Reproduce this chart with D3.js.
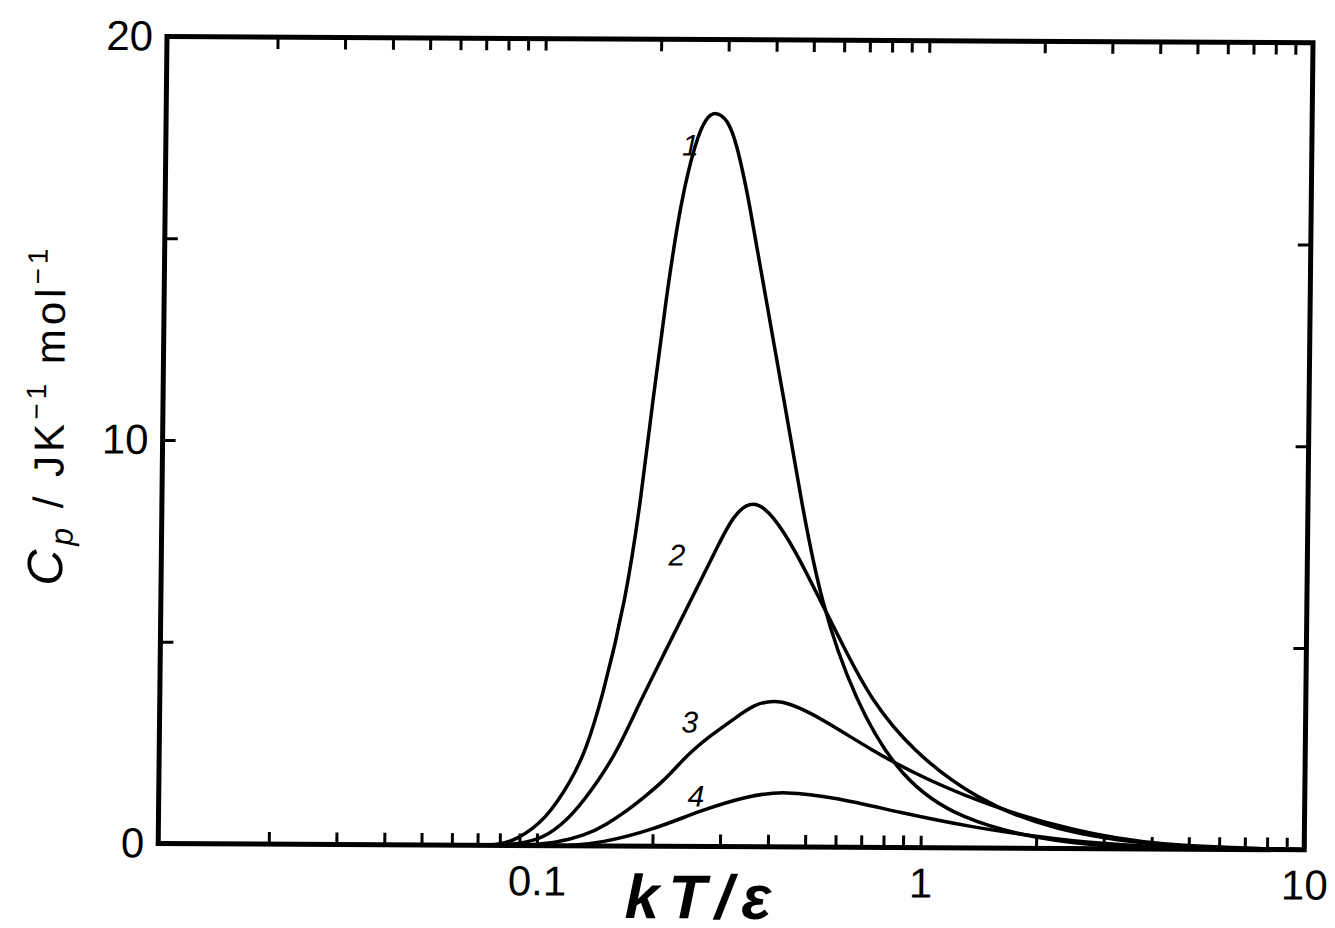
<!DOCTYPE html>
<html>
<head>
<meta charset="utf-8">
<script src="https://cdn.jsdelivr.net/npm/d3@7"></script>
<style>
  body { margin: 0; background: #fff; }
  svg { display: block; font-family: "Liberation Sans", Arial, sans-serif; }
</style>
</head>
<body>
<div id="chart"></div>
<script>
// Size of the page and of the plot frame (local coordinates before the scan tilt)
const WIDTH = 1335, HEIGHT = 928;
const PLOT_W = 1146, PLOT_H = 807;

// Data: kT/epsilon (log axis) and Cp in J K^-1 mol^-1
const curve1X = [0.07, 0.080, 0.088, 0.1052, 0.1227, 0.1332, 0.1462, 0.1678, 0.1824, 0.1948, 0.2092, 0.2275, 0.248, 0.263, 0.2793, 0.2985, 0.3155, 0.3424, 0.3817, 0.428, 0.4774, 0.5386, 0.665, 0.887, 1.276, 2.07, 3.0, 4.0, 10];
const curve1Y = [0, 0.02, 0.13, 0.63, 1.63, 2.37, 3.62, 6.10, 8.58, 11.06, 13.54, 16.02, 17.5, 18.07, 18.22, 18.03, 17.5, 16.03, 13.55, 11.08, 8.60, 6.12, 3.65, 1.67, 0.69, 0.21, 0.07, 0.02, 0];

const curve2X = [0.08, 0.0935, 0.1073, 0.1238, 0.1444, 0.1615, 0.1848, 0.2141, 0.248, 0.2873, 0.3176, 0.358, 0.4039, 0.462, 0.5386, 0.628, 0.737, 0.94, 1.394, 2.19, 4.0, 10];
const curve2Y = [0, 0.06, 0.26, 0.76, 1.63, 2.38, 3.62, 4.86, 6.11, 7.35, 8.22, 8.62, 8.22, 7.36, 6.12, 4.89, 3.65, 2.42, 1.19, 0.46, 0.06, 0];

const curve3X = [0.09, 0.112, 0.134, 0.151, 0.1722, 0.1928, 0.2134, 0.2318, 0.2535, 0.2823, 0.3237, 0.3627, 0.425, 0.55, 0.739, 1.031, 1.62, 2.47, 4.0, 10];
const curve3Y = [0, 0.06, 0.27, 0.52, 0.89, 1.27, 1.63, 2.01, 2.39, 2.76, 3.16, 3.52, 3.70, 3.18, 2.41, 1.68, 0.94, 0.46, 0.08, 0];

const curve4X = [0.12, 0.1467, 0.2, 0.267, 0.36, 0.439, 0.594, 0.889, 1.33, 1.98, 2.9, 5, 10];
const curve4Y = [0, 0.07, 0.40, 0.90, 1.28, 1.38, 1.24, 0.86, 0.53, 0.30, 0.12, 0.02, 0];

// Curve numbers and where they sit (data units)
const curveNames = ["1", "2", "3", "4"];
const labelX = [0.240, 0.2275, 0.248, 0.259];
const labelY = [17.38, 7.22, 3.08, 1.25];

// Axis ranges and tick labels
const xMin = 0.0103, xMax = 10;
const yMin = 0, yMax = 20;
const xLabelTicks = [0.1, 1, 10];
const yTicks = [0, 5, 10, 15, 20];
const yLabelTicks = [0, 10, 20];

let svg = d3.select("#chart")
    .append("svg")
    .attr("width", WIDTH)
    .attr("height", HEIGHT);

svg.append("rect")
    .attr("width", WIDTH)
    .attr("height", HEIGHT)
    .attr("fill", "#fff");

// The scanned figure is slightly sheared, so the whole plot gets a small affine matrix
let g = svg.append("g")
    .attr("transform", "matrix(1, 0.0055, -0.0109, 1, 167, 36.5)");

let x = d3.scaleLog().domain([xMin, xMax]).range([0, PLOT_W]);
let y = d3.scaleLinear().domain([yMin, yMax]).range([PLOT_H, 0]);

// minor + major ticks for every decade inside the domain
let logTicks = [];
for (let e = -2; e <= 0; e++) {
    for (let k = 1; k <= 9; k++) {
        const v = k * Math.pow(10, e);
        if (v > xMin && v < xMax) logTicks.push(+v.toPrecision(3));
    }
}

const fmtX = d => xLabelTicks.includes(d) ? String(d) : "";
const fmtY = d => yLabelTicks.includes(d) ? String(d) : "";

let xBottom = g.append("g")
    .attr("transform", `translate(0,${PLOT_H})`)
    .call(d3.axisBottom(x).tickValues(logTicks.concat([10])).tickSize(-12).tickPadding(20).tickFormat(fmtX));

let xTop = g.append("g")
    .call(d3.axisTop(x).tickValues(logTicks).tickSize(-12).tickFormat(""));

let yLeft = g.append("g")
    .call(d3.axisLeft(y).tickValues(yTicks).tickSize(-13).tickPadding(14).tickFormat(fmtY));

let yRight = g.append("g")
    .attr("transform", `translate(${PLOT_W},0)`)
    .call(d3.axisRight(y).tickValues([5, 10, 15]).tickSize(-13).tickFormat(""));

// style the axes like the printed figure
g.selectAll(".domain").remove();
g.selectAll(".tick line")
    .attr("stroke", "#000")
    .attr("stroke-width", 3);
g.selectAll(".tick text")
    .attr("fill", "#000")
    .style("font-size", "42px")
    .style("font-family", "'Liberation Sans', Arial, sans-serif");

// frame
g.append("rect")
    .attr("x", 0)
    .attr("y", 0)
    .attr("width", PLOT_W)
    .attr("height", PLOT_H)
    .attr("fill", "none")
    .attr("stroke", "#000")
    .attr("stroke-width", 5);

// curves
const curves = [
    d3.zip(curve1X, curve1Y),
    d3.zip(curve2X, curve2Y),
    d3.zip(curve3X, curve3Y),
    d3.zip(curve4X, curve4Y)
];

// a B-spline through the read points keeps the hand-drawn look smooth
let line = d3.line()
    .x(d => x(d[0]))
    .y(d => y(d[1]))
    .curve(d3.curveBasis);

g.selectAll(".curve")
    .data(curves)
    .enter()
    .append("path")
    .attr("class", "curve")
    .attr("d", line)
    .attr("fill", "none")
    .attr("stroke", "#000")
    .attr("stroke-width", 3.5)
    .attr("stroke-linejoin", "round");

// curve numbers
g.selectAll(".curveName")
    .data(curveNames)
    .enter()
    .append("text")
    .attr("class", "curveName")
    .attr("x", (d, i) => x(labelX[i]))
    .attr("y", (d, i) => y(labelY[i]))
    .attr("dy", "0.35em")
    .attr("text-anchor", "middle")
    .style("font-size", "30px")
    .style("font-style", "italic")
    .text(d => d);

// x axis title
g.append("text")
    .attr("x", x(0.271))
    .attr("y", PLOT_H + 72)
    .attr("text-anchor", "middle")
    .style("font-size", "62px")
    .style("font-weight", "bold")
    .style("font-style", "italic")
    .style("letter-spacing", "9px")
    .text("kT/ε");

// y axis title, rotated
let yTitle = g.append("text")
    .attr("transform", `translate(-99,${y(10.6)}) rotate(-90)`)
    .attr("text-anchor", "middle")
    .style("font-size", "42px")
    .style("letter-spacing", "4px");

yTitle.append("tspan").style("font-style", "italic").style("font-size", "50px").text("C");
yTitle.append("tspan").style("font-style", "italic").style("font-size", "32px").attr("dy", 10).text("p");
yTitle.append("tspan").attr("dy", -10).text(" / JK");
yTitle.append("tspan").style("font-size", "28px").attr("dy", -18).text("−1");
yTitle.append("tspan").attr("dy", 18).text(" mol");
yTitle.append("tspan").style("font-size", "28px").attr("dy", -18).text("−1");
</script>
</body>
</html>
